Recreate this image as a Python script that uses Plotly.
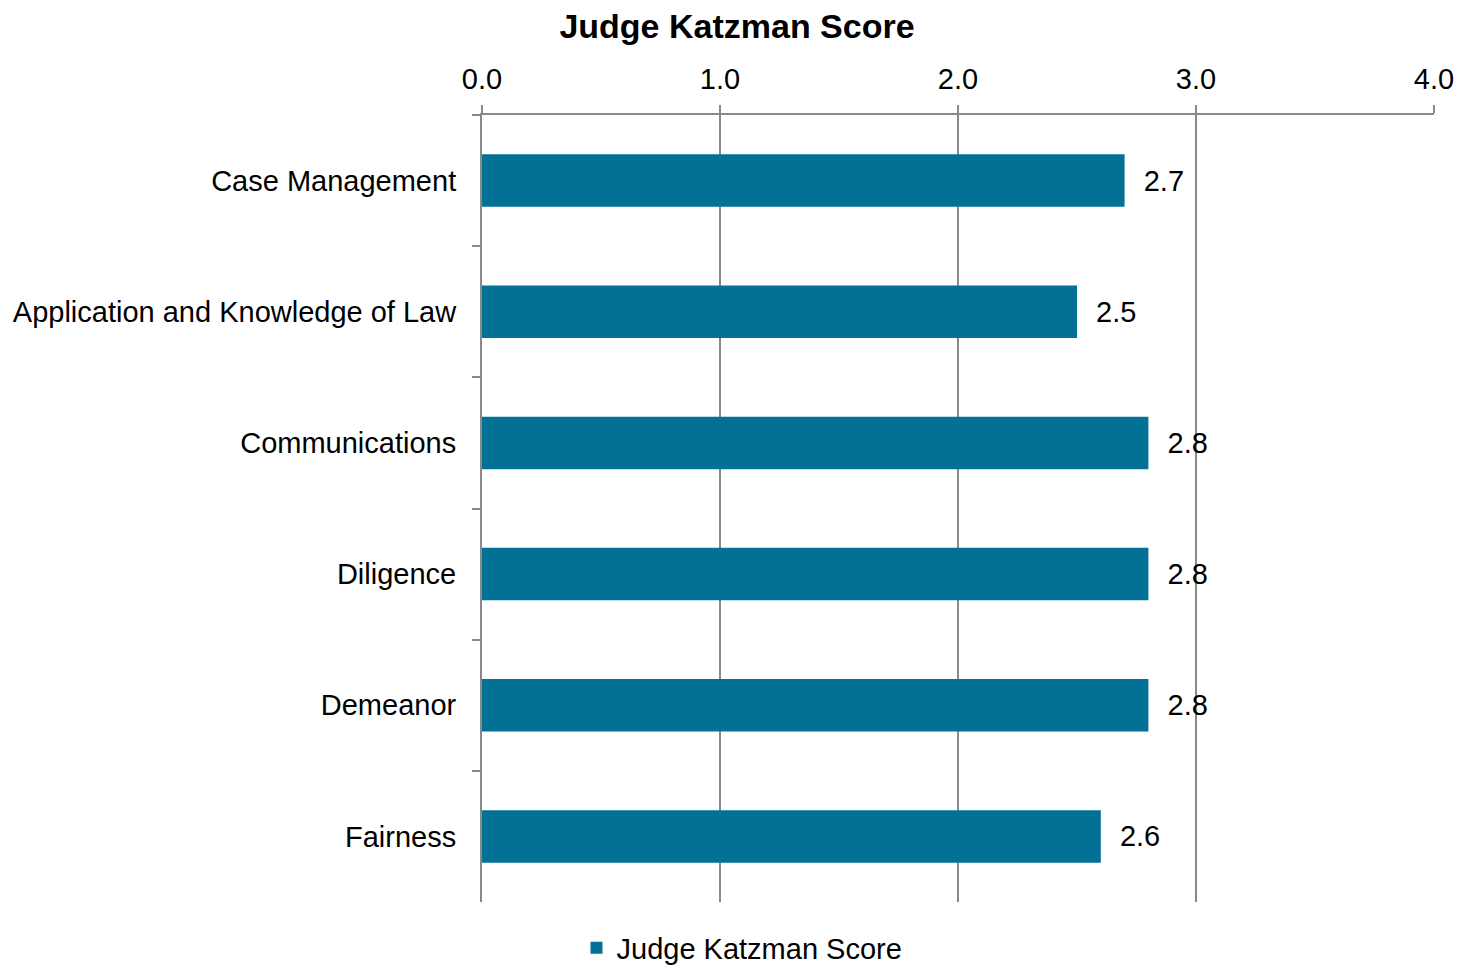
import plotly.graph_objects as go

categories = ["Case Management", "Application and Knowledge of Law", "Communications",
              "Diligence", "Demeanor", "Fairness"]
scores = [2.7, 2.5, 2.8, 2.8, 2.8, 2.6]
series_name = "Judge Katzman Score"
x_ticks = [0, 1, 2, 3, 4]
x_tick_labels = ["0.0", "1.0", "2.0", "3.0", "4.0"]

FONT = "Arial, Liberation Sans, sans-serif"
BAR = "#037096"
GRID = "#898989"
W, H = 1457, 957

fig = go.Figure(go.Bar(
    y=categories, x=scores, orientation="h", name=series_name,
    marker=dict(color=BAR, line=dict(width=0)),
    width=0.4,
    text=["\u00a0\u00a0" + f"{v:.1f}" for v in scores],
    textposition="outside", cliponaxis=False,
    textfont=dict(family=FONT, size=29, color="#000000"),
    showlegend=True,
))

fig.update_layout(
    width=W, height=H,
    margin=dict(l=474, r=31, t=107, b=63, autoexpand=False),
    paper_bgcolor="white", plot_bgcolor="white",
    font=dict(family=FONT, size=29, color="#000000"),
    title=dict(text="<b>Judge Katzman Score</b>", x=(737 - 8) / W, xref="container", xanchor="center",
               y=1 - 18 / H, yref="container", yanchor="middle",
               font=dict(family=FONT, size=34, color="#000000")),
    showlegend=True,
    legend=dict(orientation="h", x=(742 - 8) / W, xanchor="center", xref="container",
                y=1 - 940 / H, yref="container", yanchor="middle",
                font=dict(family=FONT, size=29, color="#000000"),
                itemwidth=30, bgcolor="rgba(0,0,0,0)"),
    bargap=0.6,
)

fig.update_xaxes(
    side="top", range=[0, 4], tickvals=x_ticks, ticktext=x_tick_labels,
    showgrid=True, gridcolor=GRID, gridwidth=2,
    showline=True, linecolor=GRID, linewidth=2,
    ticks="outside", ticklen=8, tickcolor=GRID, tickwidth=2,
    zeroline=False, tickfont=dict(family=FONT, size=29, color="#000000"),
    fixedrange=True, automargin=False, ticklabelstandoff=4,
)
fig.update_yaxes(
    categoryorder="array", categoryarray=categories, autorange="reversed",
    showline=True, linecolor=GRID, linewidth=2,
    ticks="outside", tickson="boundaries", ticklen=8, tickcolor=GRID, tickwidth=2,
    showgrid=False, ticklabelstandoff=18, automargin=False,
    tickfont=dict(family=FONT, size=29, color="#000000"),
)

fig.write_html("out.html")
